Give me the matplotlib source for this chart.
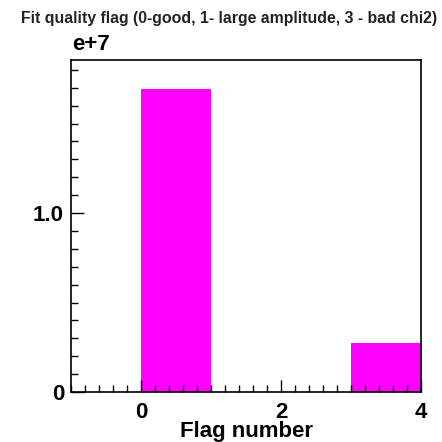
import numpy as np
import matplotlib.pyplot as plt
from matplotlib.ticker import MultipleLocator, FixedLocator

plt.rcParams['font.family'] = ['Liberation Sans', 'DejaVu Sans']

# histogram of fit quality flags, unit-width bins
bin_edges = [-1, 0, 1, 2, 3, 4]
counts = [0, 1.693e7, 0, 0, 0.274e7]

fig = plt.figure(figsize=(4.42, 4.42), dpi=100)
ax = fig.add_axes([0.1606, 0.1131, 0.9525 - 0.1606, 0.8643 - 0.1131])

ax.stairs(counts, bin_edges, fill=True, color='#ff00ff', linewidth=0)

ax.set_xlim(-1, 4)
ax.set_ylim(0, 1.855e7)

ax.xaxis.set_major_locator(FixedLocator([0, 2, 4]))
ax.xaxis.set_minor_locator(MultipleLocator(0.2))
ax.yaxis.set_major_locator(FixedLocator([0, 1.0e7]))
ax.yaxis.set_minor_locator(MultipleLocator(0.1e7))
ax.set_xticklabels(['0', '2', '4'])
ax.set_yticklabels(['0', '1.0'])

ax.tick_params(which='both', direction='in', top=False, right=False,
               width=1.0, color='black', labelsize=16)
ax.tick_params(which='major', length=9, pad=5)
ax.tick_params(axis='x', which='major', pad=7)
ax.tick_params(which='minor', length=5)
for lbl in ax.get_xticklabels() + ax.get_yticklabels():
    lbl.set_fontweight('bold')

for side in ax.spines.values():
    side.set_linewidth(1.2)

fig.text(0.557, 0.023, 'Flag number', ha='center', va='center',
         fontsize=16, fontweight='bold')
fig.text(0.518, 0.958, 'Fit quality flag (0-good, 1- large amplitude, 3 - bad chi2)',
         ha='center', va='center', fontsize=11.4, fontweight='bold', color='#222222')
fig.text(0.163, 0.900, 'e+7', ha='left', va='center', fontsize=16, fontweight='bold')

fig.savefig('out.png', dpi=100, facecolor='white')
